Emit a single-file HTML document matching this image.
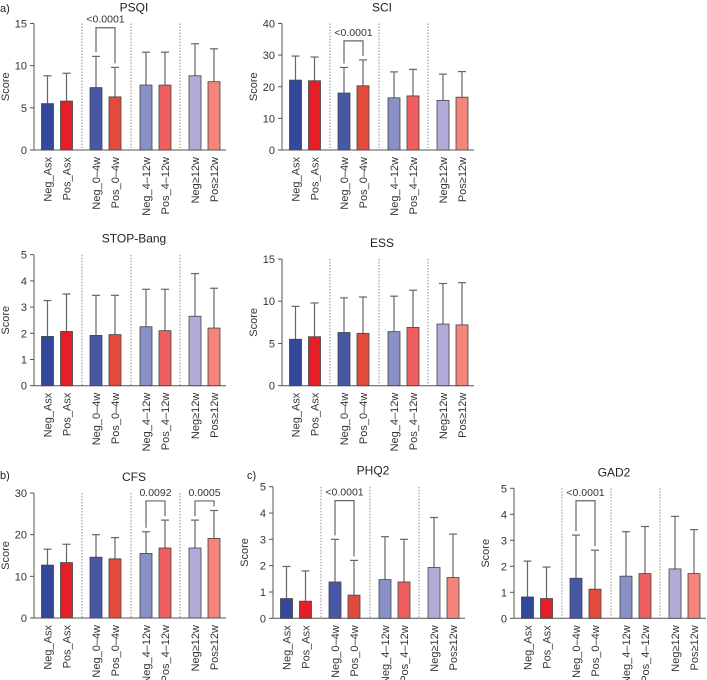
<!DOCTYPE html>
<html><head><meta charset="utf-8"><style>
html,body{margin:0;padding:0;background:#fff;}
svg{display:block;font-family:"Liberation Sans",sans-serif;}
</style></head><body>
<svg id="c" width="707" height="680" viewBox="0 0 707 680"></svg>
<script>
const categories=["Neg_Asx","Pos_Asx","Neg_0–4w","Pos_0–4w","Neg_4–12w","Pos_4–12w","Neg≥12w","Pos≥12w"];
const psqiMeans=[5.5,5.8,7.4,6.3,7.7,7.7,8.8,8.1];
const psqiUpper=[8.8,9.1,11.1,9.8,11.6,11.6,12.6,12.0];
const sciMeans=[22.1,21.9,18.0,20.3,16.5,17.1,15.7,16.7];
const sciUpper=[29.7,29.4,26.1,28.5,24.7,25.5,24.0,24.8];
const stopMeans=[1.88,2.07,1.92,1.95,2.25,2.1,2.65,2.2];
const stopUpper=[3.25,3.5,3.45,3.45,3.68,3.68,4.28,3.72];
const essMeans=[5.5,5.8,6.3,6.2,6.4,6.9,7.3,7.2];
const essUpper=[9.4,9.8,10.4,10.5,10.6,11.3,12.1,12.2];
const cfsMeans=[12.7,13.3,14.6,14.2,15.5,16.8,16.8,19.1];
const cfsUpper=[16.5,17.7,20.0,19.3,20.7,23.5,23.5,25.8];
const phqMeans=[0.75,0.65,1.38,0.88,1.47,1.38,1.93,1.55];
const phqUpper=[1.97,1.8,3.0,2.2,3.1,3.0,3.83,3.2];
const gadMeans=[0.82,0.76,1.54,1.12,1.62,1.72,1.9,1.72];
const gadUpper=[2.2,1.97,3.2,2.62,3.33,3.53,3.92,3.41];
const psqiTicks=[0,5,10,15], sciTicks=[0,10,20,30,40], stopTicks=[0,1,2,3,4,5], essTicks=[0,5,10,15], cfsTicks=[0,10,20,30], phqTicks=[0,1,2,3,4,5], gadTicks=[0,1,2,3,4,5];
const psqiSig=[[2,3,14.5,"<0.0001"]], sciSig=[[2,3,34.5,"<0.0001"]], cfsSig=[[4,5,28.1,"0.0092"],[6,7,28.1,"0.0005"]], phqSig=[[2,3,4.47,"<0.0001"]], gadSig=[[2,3,4.52,"<0.0001"]];

const colors=["#34499c","#e61e28","#4759a6","#e24a3b","#8890c6","#ef5e5e","#b1acd7","#f3857a"];
const offs=[13.5,32.5,62,81,112,131,161,180];
const svg=document.getElementById('c');
const NS="http://www.w3.org/2000/svg";
function mk(tag,attrs,parent){const e=document.createElementNS(NS,tag);for(const k in attrs)e.setAttribute(k,attrs[k]);(parent||svg).appendChild(e);return e;}
function txt(s,attrs,parent){const e=mk('text',attrs,parent);e.textContent=s;return e;}

function panel(key,title,A,y0,top,ticks,means,upper,sigs){
  const g=mk('g',{});
  
  
  const max=ticks[ticks.length-1];
  const y=v=>y0-(v/max)*(y0-top);
  const x=i=>A+offs[i];
  const t=txt(title,{x:A+100,y:top-12,'font-size':12,'text-anchor':'middle',fill:'#222'},g);
  
  
  [48,97,146].forEach(d=>{const l=mk('line',{x1:A+d,x2:A+d,y1:top,y2:y0,stroke:'#444','stroke-width':0.6,'stroke-dasharray':'1.5,1.5'},g);
    
    });
  const ya=mk('line',{x1:A,x2:A,y1:top,y2:y0,stroke:'#555','stroke-width':1},g);
  
  
  const xa=mk('line',{x1:A,x2:A+192,y1:y0,y2:y0,stroke:'#555','stroke-width':1},g);
  
  
  ticks.forEach(v=>{
    mk('line',{x1:A-4,x2:A,y1:y(v),y2:y(v),stroke:'#555','stroke-width':1},g);
    const tl=txt(String(v),{x:A-7,y:y(v)+4,'font-size':11,'text-anchor':'end',fill:'#333'},g);
    
    
  });
  const yt=txt('Score',{x:0,y:0,'font-size':11,'text-anchor':'middle',fill:'#333',transform:`translate(${A-25},${(y0+top)/2}) rotate(-90)`},g);
  
  
  means.forEach((m,i)=>{
    const cx=x(i);
    const e=mk('line',{x1:cx,x2:cx,y1:y(upper[i]),y2:y(m),stroke:'#666','stroke-width':1.2},g);
    
    
    mk('line',{x1:cx-4,x2:cx+4,y1:y(upper[i]),y2:y(upper[i]),stroke:'#666','stroke-width':1.2},g);
    const r=mk('rect',{x:cx-6,y:y(m),width:12,height:y0-y(m),fill:colors[i],stroke:'#444','stroke-width':0.8},g);
    
    
    const xl=txt(categories[i],{x:0,y:0,'font-size':11,'text-anchor':'end',fill:'#333',transform:`translate(${cx+4},${y0+7}) rotate(-90)`},g);
    
    
  });
  (sigs||[]).forEach(s=>{
    const [a,b,v,lab]=s;const yb=y(v);
    const p=mk('path',{d:`M${x(a)},${y(upper[a])-4}V${yb}H${x(b)}V${y(upper[b])-4}`,fill:'none',stroke:'#666','stroke-width':1.2},g);
    
    
    const st=txt(lab,{x:(x(a)+x(b))/2,y:yb-5,'font-size':10.5,'text-anchor':'middle',fill:'#333'},g);
    
    
  });
}
panel('psqi','PSQI',34,150,23.5,psqiTicks,psqiMeans,psqiUpper,psqiSig);
panel('sci','SCI',282,150,23.5,sciTicks,sciMeans,sciUpper,sciSig);
panel('stop-bang','STOP-Bang',34,385.7,254.7,stopTicks,stopMeans,stopUpper,[]);
panel('ess','ESS',282,385.7,259,essTicks,essMeans,essUpper,[]);
panel('cfs','CFS',34,618,493,cfsTicks,cfsMeans,cfsUpper,cfsSig);
panel('phq2','PHQ2',273,618.3,486.7,phqTicks,phqMeans,phqUpper,phqSig);
panel('gad2','GAD2',514,618.3,488.3,gadTicks,gadMeans,gadUpper,gadSig);
[["a)",0,12],["b)",0,479],["c)",247,479]].forEach(l=>{const t=txt(l[0],{x:l[1],y:l[2],'font-size':11,fill:'#222'});
  
  });
</script>
</body></html>
